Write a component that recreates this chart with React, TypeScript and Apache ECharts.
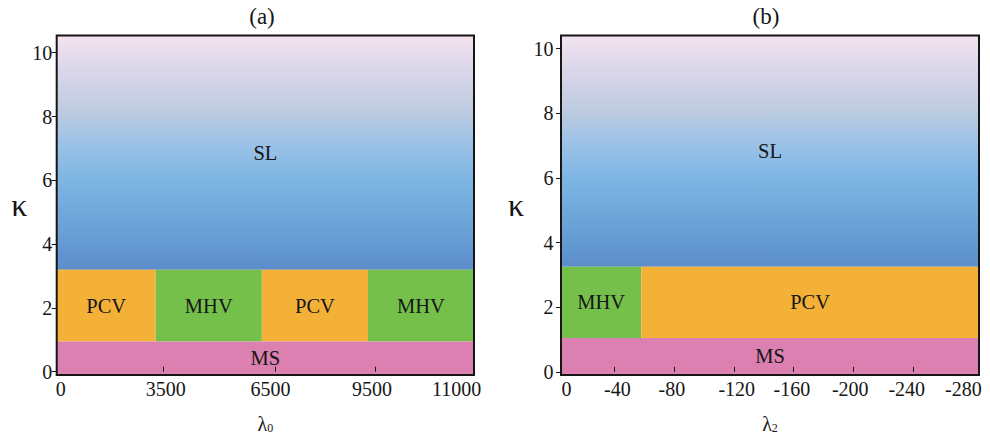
import { useEffect, useRef } from 'react';
import * as echarts from 'echarts';

const FONT = 'Liberation Serif';
const INK = '#161616';

// ---------- data ----------
const kappaTicks = [0, 2, 4, 6, 8, 10];

// panel (a): kappa vs lambda0
const lambda0Ticks = [0, 3500, 6500, 9500, 11000];
const lambda0TickText = ['0', '3500', '6500', '9500', '11000'];
const bandsANames = ['PCV', 'MHV', 'PCV', 'MHV'];
const bandsAFrom = [0, 3250, 6130, 9270];
const bandsATo = [3250, 6130, 9270, 11000];
const kappaASL = 3.2; // SL above this
const kappaAMS = 0.95; // MS below this

// panel (b): kappa vs lambda2
const lambda2Ticks = [-40, -80, -120, -160, -200, -240];
const lambda2Text = ['0', '-40', '-80', '-120', '-160', '-200', '-240', '-280'];
const bandsBNames = ['MHV', 'PCV'];
const bandsBFrom = [0, -58];
const bandsBTo = [-58, -284];
const kappaBSL = 3.25;
const kappaBMS = 1.05;

// ---------- layout (axis placement of the figure) ----------
// panel (a) axis is ordinal-like: lambda0 ticks sit at these positions (0..100 of width)
const posATicks = [0, 25.55, 52.48, 76.44, 100];
const posALabels = [0.96, 26.12, 51.23, 75.56, 95.85];
const lambda2LabelAt = [-8, -42.1, -78.5, -121.9, -158.7, -197.8, -235.6, -273.5];
const xBRange = [-283.9, -4.35];
const yARange = [-0.103, 10.54];
const yBRange = [-0.096, 10.41];

const REGION_COLORS: Record<string, string> = {
  PCV: '#f3b137',
  MHV: '#75c04b',
  MS: '#db80b1',
};

function lambda0ToPos(l: number) {
  for (let i = 0; i < lambda0Ticks.length - 1; i++) {
    const a = lambda0Ticks[i];
    const b = lambda0Ticks[i + 1];
    if (l <= b || i === lambda0Ticks.length - 2) {
      return posATicks[i] + ((l - a) / (b - a)) * (posATicks[i + 1] - posATicks[i]);
    }
  }
  return 100;
}

function nearestIndex(arr: number[], v: number) {
  let best = 0;
  for (let i = 1; i < arr.length; i++) if (Math.abs(arr[i] - v) < Math.abs(arr[best] - v)) best = i;
  return best;
}

type Region = { name: string; x0: number; x1: number; y0: number; y1: number };

function regionsA(): Region[] {
  const out: Region[] = [];
  out.push({ name: 'SL', x0: lambda0ToPos(0), x1: lambda0ToPos(11000), y0: kappaASL, y1: yARange[1] });
  bandsANames.forEach((n, i) =>
    out.push({ name: n, x0: lambda0ToPos(bandsAFrom[i]), x1: lambda0ToPos(bandsATo[i]), y0: kappaAMS, y1: kappaASL })
  );
  out.push({ name: 'MS', x0: lambda0ToPos(0), x1: lambda0ToPos(11000), y0: yARange[0], y1: kappaAMS });
  return out;
}

function regionsB(): Region[] {
  const out: Region[] = [];
  out.push({ name: 'SL', x0: 0, x1: -284, y0: kappaBSL, y1: yBRange[1] });
  bandsBNames.forEach((n, i) => out.push({ name: n, x0: bandsBFrom[i], x1: bandsBTo[i], y0: kappaBMS, y1: kappaBSL }));
  out.push({ name: 'MS', x0: 0, x1: -284, y0: yBRange[0], y1: kappaBMS });
  return out;
}

function slGradient() {
  return new echarts.graphic.LinearGradient(0, 0, 0, 1, [
    { offset: 0, color: '#f4e3f0' },
    { offset: 0.15, color: '#dad6ea' },
    { offset: 0.33, color: '#bccbe0' },
    { offset: 0.45, color: '#9fc3e7' },
    { offset: 0.62, color: '#7db5e3' },
    { offset: 0.83, color: '#6aa1d6' },
    { offset: 1, color: '#5b8dcb' },
  ]);
}

function makeSeries(regions: Region[], idx: number) {
  return {
    type: 'custom',
    xAxisIndex: idx,
    yAxisIndex: idx,
    z: 2,
    data: regions.map((r) => ({ name: r.name, value: [r.x0, r.x1, r.y0, r.y1] })),
    renderItem: (params: any, api: any) => {
      const r = regions[params.dataIndex];
      const p0 = api.coord([api.value(0), api.value(3)]);
      const p1 = api.coord([api.value(1), api.value(2)]);
      const cs = params.coordSys;
      const left = Math.max(Math.min(p0[0], p1[0]), cs.x);
      const right = Math.min(Math.max(p0[0], p1[0]), cs.x + cs.width);
      const top = Math.max(Math.min(p0[1], p1[1]), cs.y);
      const bottom = Math.min(Math.max(p0[1], p1[1]), cs.y + cs.height);
      const fill = r.name === 'SL' ? slGradient() : REGION_COLORS[r.name];
      return {
        type: 'group',
        children: [
          {
            type: 'rect',
            shape: { x: left, y: top, width: right - left, height: bottom - top },
            style: { fill, stroke: null },
          },
          {
            type: 'text',
            x: (left + right) / 2,
            y: (top + bottom) / 2,
            style: {
              text: r.name,
              align: 'center',
              verticalAlign: 'middle',
              fontSize: 20.5,
              fontFamily: FONT,
              fill: INK,
            },
          },
        ],
      };
    },
  };
}

const axisText = { fontFamily: FONT, fontSize: 20, color: INK };

function buildOption() {
  const lamName = (sub: string) => ({
    name: `{l|λ}{s|${sub}}`,
    nameLocation: 'middle',
    nameGap: 39,
    nameTextStyle: {
      fontFamily: FONT,
      color: INK,
      rich: {
        l: { fontSize: 20, fontFamily: FONT, color: INK },
        s: { fontSize: 12, fontFamily: FONT, color: INK, verticalAlign: 'bottom', lineHeight: 8 },
      },
    },
  });
  const yBase = (gridIndex: number, range: number[], margin: number, gap: number) => ({
    type: 'value',
    gridIndex,
    min: range[0],
    max: range[1],
    z: 10,
    axisLine: { show: false },
    splitLine: { show: false },
    axisTick: { show: true, inside: false, length: 5, customValues: kappaTicks, lineStyle: { color: INK, width: 1 } },
    axisLabel: { ...axisText, margin, customValues: kappaTicks, formatter: (v: number) => String(Math.round(v)) },
    name: 'κ',
    nameLocation: 'middle',
    nameRotate: 0,
    nameGap: gap,
    nameTextStyle: { fontFamily: FONT, fontSize: 32, fontWeight: 'normal', color: INK },
  });
  return {
    animation: false,
    backgroundColor: '#ffffff',
    title: [
      {
        text: '(a)',
        left: 262,
        top: 5,
        textAlign: 'center',
        padding: 0,
        textStyle: { fontFamily: FONT, fontSize: 23, fontWeight: 'normal', color: INK },
      },
      {
        text: '(b)',
        left: 766,
        top: 5,
        textAlign: 'center',
        padding: 0,
        textStyle: { fontFamily: FONT, fontSize: 23, fontWeight: 'normal', color: INK },
      },
    ],
    grid: [
      { left: 56.7, top: 35.5, width: 417.3, height: 339.5, show: true, borderColor: INK, borderWidth: 2, backgroundColor: 'transparent', z: 10, containLabel: false, outerBoundsMode: 'none' },
      { left: 561, top: 35.5, width: 418, height: 339.5, show: true, borderColor: INK, borderWidth: 2, backgroundColor: 'transparent', z: 10, containLabel: false, outerBoundsMode: 'none' },
    ],
    xAxis: [
      {
        type: 'value',
        gridIndex: 0,
        min: 0,
        max: 100,
        z: 10,
        axisLine: { show: false },
        splitLine: { show: false },
        axisTick: { show: true, inside: true, length: 5, customValues: posATicks.slice(1, -1), lineStyle: { color: INK, width: 1 } },
        axisLabel: {
          ...axisText,
          margin: 4,
          customValues: posALabels,
          formatter: (v: number) => lambda0TickText[nearestIndex(posALabels, v)],
        },
        ...lamName('0'),
      },
      {
        type: 'value',
        gridIndex: 1,
        min: xBRange[0],
        max: xBRange[1],
        inverse: true,
        z: 10,
        axisLine: { show: false },
        splitLine: { show: false },
        axisTick: { show: true, inside: true, length: 5, customValues: lambda2Ticks, lineStyle: { color: INK, width: 1 } },
        axisLabel: {
          ...axisText,
          margin: 4,
          customValues: lambda2LabelAt,
          formatter: (v: number) => lambda2Text[nearestIndex(lambda2LabelAt, v)],
        },
        ...lamName('2'),
      },
    ],
    yAxis: [yBase(0, yARange, 4.5, 29), yBase(1, yBRange, 7.5, 37)],
    series: [makeSeries(regionsA(), 0), makeSeries(regionsB(), 1)],
  };
}

export default function App() {
  const ref = useRef<HTMLDivElement>(null);
  useEffect(() => {
    document.body.style.margin = '0';
    const chart = echarts.init(ref.current as HTMLDivElement, null, { renderer: 'svg' });
    chart.setOption(buildOption() as any);
    return () => chart.dispose();
  }, []);
  return <div ref={ref} style={{ position: 'absolute', left: 0, top: 0, width: 990, height: 446 }} />;
}
